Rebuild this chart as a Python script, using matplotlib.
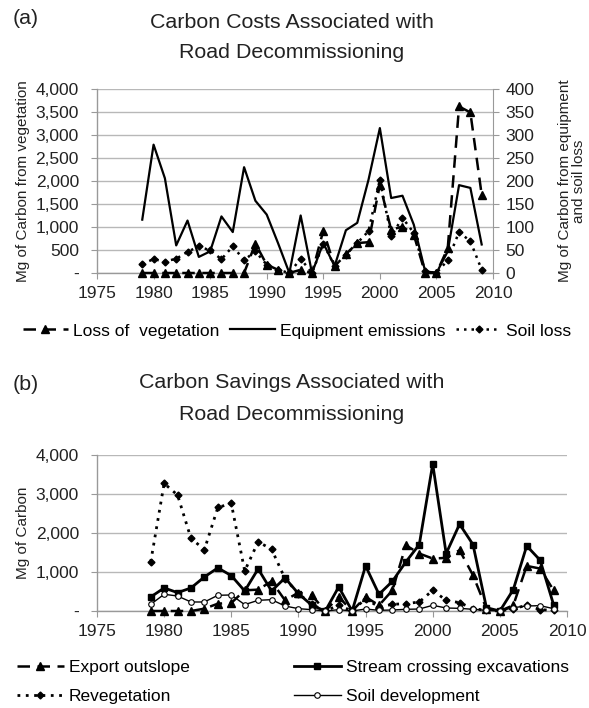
import numpy as np
import matplotlib.pyplot as plt
from matplotlib.ticker import FuncFormatter

plt.rcParams['font.family'] = ['Liberation Sans', 'DejaVu Sans']

years = list(range(1979, 2010))

# panel (a) - costs
loss_vegetation = [0, 0, 0, 0, 0, 0, 0, 0, 0, 0, 640, 180, 70, 0, 70, 0,
                   920, 145, 410, 650, 670, 1920, 940, 1010, 830, 0, 0,
                   540, 3620, 3490, 1700]
equipment = [116, 279, 206, 60, 114, 35, 47, 123, 89, 230, 157, 127, 65, 0,
             125, 0, 65, 15, 93, 109, 203, 315, 163, 168, 105, 4, 0, 47,
             191, 185, 62]
soil_loss = [20, 30, 25, 31, 46, 58, 49, 30, 58, 28, 47, 18, 7, 0, 31, 0,
             64, 15, 40, 65, 91, 203, 80, 120, 87, 4, 0, 28, 89, 69, 7]

# panel (b) - savings
export_outslope = [0, 0, 0, 0, 60, 188, 206, 530, 548, 762, 274, 471, 403,
                   0, 360, 0, 360, 146, 530, 1687, 1473, 1345, 1362, 1559,
                   917, 60, 0, 146, 1156, 1088, 531]
stream_crossing = [360, 591, 471, 591, 874, 1105, 908, 514, 1079, 514, 848,
                   445, 146, 0, 617, 0, 1156, 428, 762, 1259, 1704, 3769,
                   1473, 2227, 1704, 86, 0, 548, 1670, 1302, 163]
revegetation = [1259, 3272, 2972, 1859, 1576, 2655, 2758, 1028, 1773, 1585,
                830, 445, 171, 0, 146, 0, 317, 103, 171, 188, 231, 531, 274,
                214, 60, 17, 0, 60, 146, 34, 17]
soil_development = [171, 428, 385, 231, 231, 403, 411, 163, 274, 291, 128,
                    60, 34, 0, 34, 0, 51, 17, 26, 43, 51, 146, 77, 68, 43, 17,
                    0, 86, 128, 137, 60]

GRID = '#b8b8b8'
TXT = '#222222'
TICK_FS = 12.5
TITLE_FS = 15.4
LABEL_FS = 11


def thousands(v, pos):
    if v == 0:
        return '-'
    return f'{int(v):,}'


def style_axis(ax):
    ax.set_xlim(1975, 2010)
    ax.set_xticks(range(1975, 2011, 5))
    ax.yaxis.grid(True, color=GRID, linewidth=1.0)
    ax.set_axisbelow(True)
    for s in ['top', 'right']:
        ax.spines[s].set_visible(False)
    for s in ['left', 'bottom']:
        ax.spines[s].set_color('#999999')
        ax.spines[s].set_linewidth(1.0)
    ax.tick_params(axis='both', colors='#999999', labelcolor=TXT,
                   labelsize=TICK_FS, length=4, direction='out')
    ax.tick_params(axis='y', pad=9)
    ax.tick_params(axis='x', pad=5)
    ax.yaxis.set_major_formatter(FuncFormatter(thousands))


fig = plt.figure(figsize=(5.89, 7.08), dpi=100)

# ---- panel (a)
ax1 = fig.add_axes([97 / 589, 1 - 273 / 708, 396 / 589, 184 / 708])
style_axis(ax1)
ax1.set_ylim(0, 4000)
ax1.set_yticks(range(0, 4001, 500))
ax1.set_ylabel('Mg of Carbon from vegetation', fontsize=LABEL_FS, color=TXT,
               labelpad=4)

ax2 = ax1.twinx()
ax2.set_ylim(0, 400)
ax2.set_yticks(range(0, 401, 50))
for s in ['top', 'left', 'bottom']:
    ax2.spines[s].set_visible(False)
ax2.spines['right'].set_color('#999999')
ax2.tick_params(axis='y', colors='#999999', labelcolor=TXT,
                labelsize=TICK_FS, length=4, pad=5)
ax2.set_ylabel('Mg of Carbon from equipment\nand soil loss',
               fontsize=LABEL_FS, color=TXT, labelpad=17, linespacing=1.0)

l1, = ax1.plot(years, loss_vegetation, color='black', linestyle=(0, (5, 3)),
               linewidth=1.8, marker='^', markersize=6,
               label='Loss of  vegetation', clip_on=False, zorder=3)
l2, = ax2.plot(years, equipment, color='black', linewidth=1.6,
               label='Equipment emissions', clip_on=False, zorder=3)
l3, = ax2.plot(years, soil_loss, color='black', linestyle=(0, (1, 2)),
               linewidth=1.8, marker='D', markersize=3.5, label='Soil loss',
               clip_on=False, zorder=3)

fig.text(13 / 589, 1 - 18 / 708, '(a)', fontsize=TITLE_FS, color=TXT,
         va='center')
fig.text(292 / 589, 1 - 22 / 708, 'Carbon Costs Associated with',
         fontsize=TITLE_FS, color=TXT, ha='center', va='center')
fig.text(292 / 589, 1 - 52 / 708, 'Road Decommissioning', fontsize=TITLE_FS,
         color=TXT, ha='center', va='center')

fig.legend(handles=[l1, l2, l3], loc='center',
           bbox_to_anchor=(297 / 589, 1 - 331 / 708), ncol=3, frameon=False,
           fontsize=TICK_FS, handlelength=2.6, columnspacing=0.6,
           handletextpad=0.3)

# ---- panel (b)
ax3 = fig.add_axes([97 / 589, 1 - 611 / 708, 470 / 589, 156 / 708])
style_axis(ax3)
ax3.set_ylim(0, 4000)
ax3.set_yticks(range(0, 4001, 1000))
ax3.set_ylabel('Mg of Carbon', fontsize=LABEL_FS, color=TXT, labelpad=4)

b1, = ax3.plot(years, export_outslope, color='black',
               linestyle=(0, (5, 3)), linewidth=1.8, marker='^',
               markersize=6, label='Export outslope', clip_on=False, zorder=3)
b2, = ax3.plot(years, stream_crossing, color='black', linewidth=2.0,
               marker='s', markersize=5, label='Stream crossing excavations',
               clip_on=False, zorder=3)
b3, = ax3.plot(years, revegetation, color='black', linestyle=(0, (1, 2)),
               linewidth=2.0, marker='D', markersize=3.5,
               label='Revegetation', clip_on=False, zorder=3)
b4, = ax3.plot(years, soil_development, color='black', linewidth=1.0,
               marker='o', markersize=4, markerfacecolor='white',
               markeredgewidth=0.8, label='Soil development', clip_on=False,
               zorder=3)

fig.text(13 / 589, 1 - 385 / 708, '(b)', fontsize=TITLE_FS, color=TXT,
         va='center')
fig.text(292 / 589, 1 - 383 / 708, 'Carbon Savings Associated with',
         fontsize=TITLE_FS, color=TXT, ha='center', va='center')
fig.text(292 / 589, 1 - 415 / 708, 'Road Decommissioning', fontsize=TITLE_FS,
         color=TXT, ha='center', va='center')

fig.legend(handles=[b1, b3, b2, b4], loc='center',
           bbox_to_anchor=(293 / 589, 1 - 682 / 708), ncol=2, frameon=False,
           fontsize=TICK_FS, handlelength=2.7, columnspacing=6.0,
           handletextpad=0.3, labelspacing=0.75)

fig.savefig('out.png', dpi=100)
